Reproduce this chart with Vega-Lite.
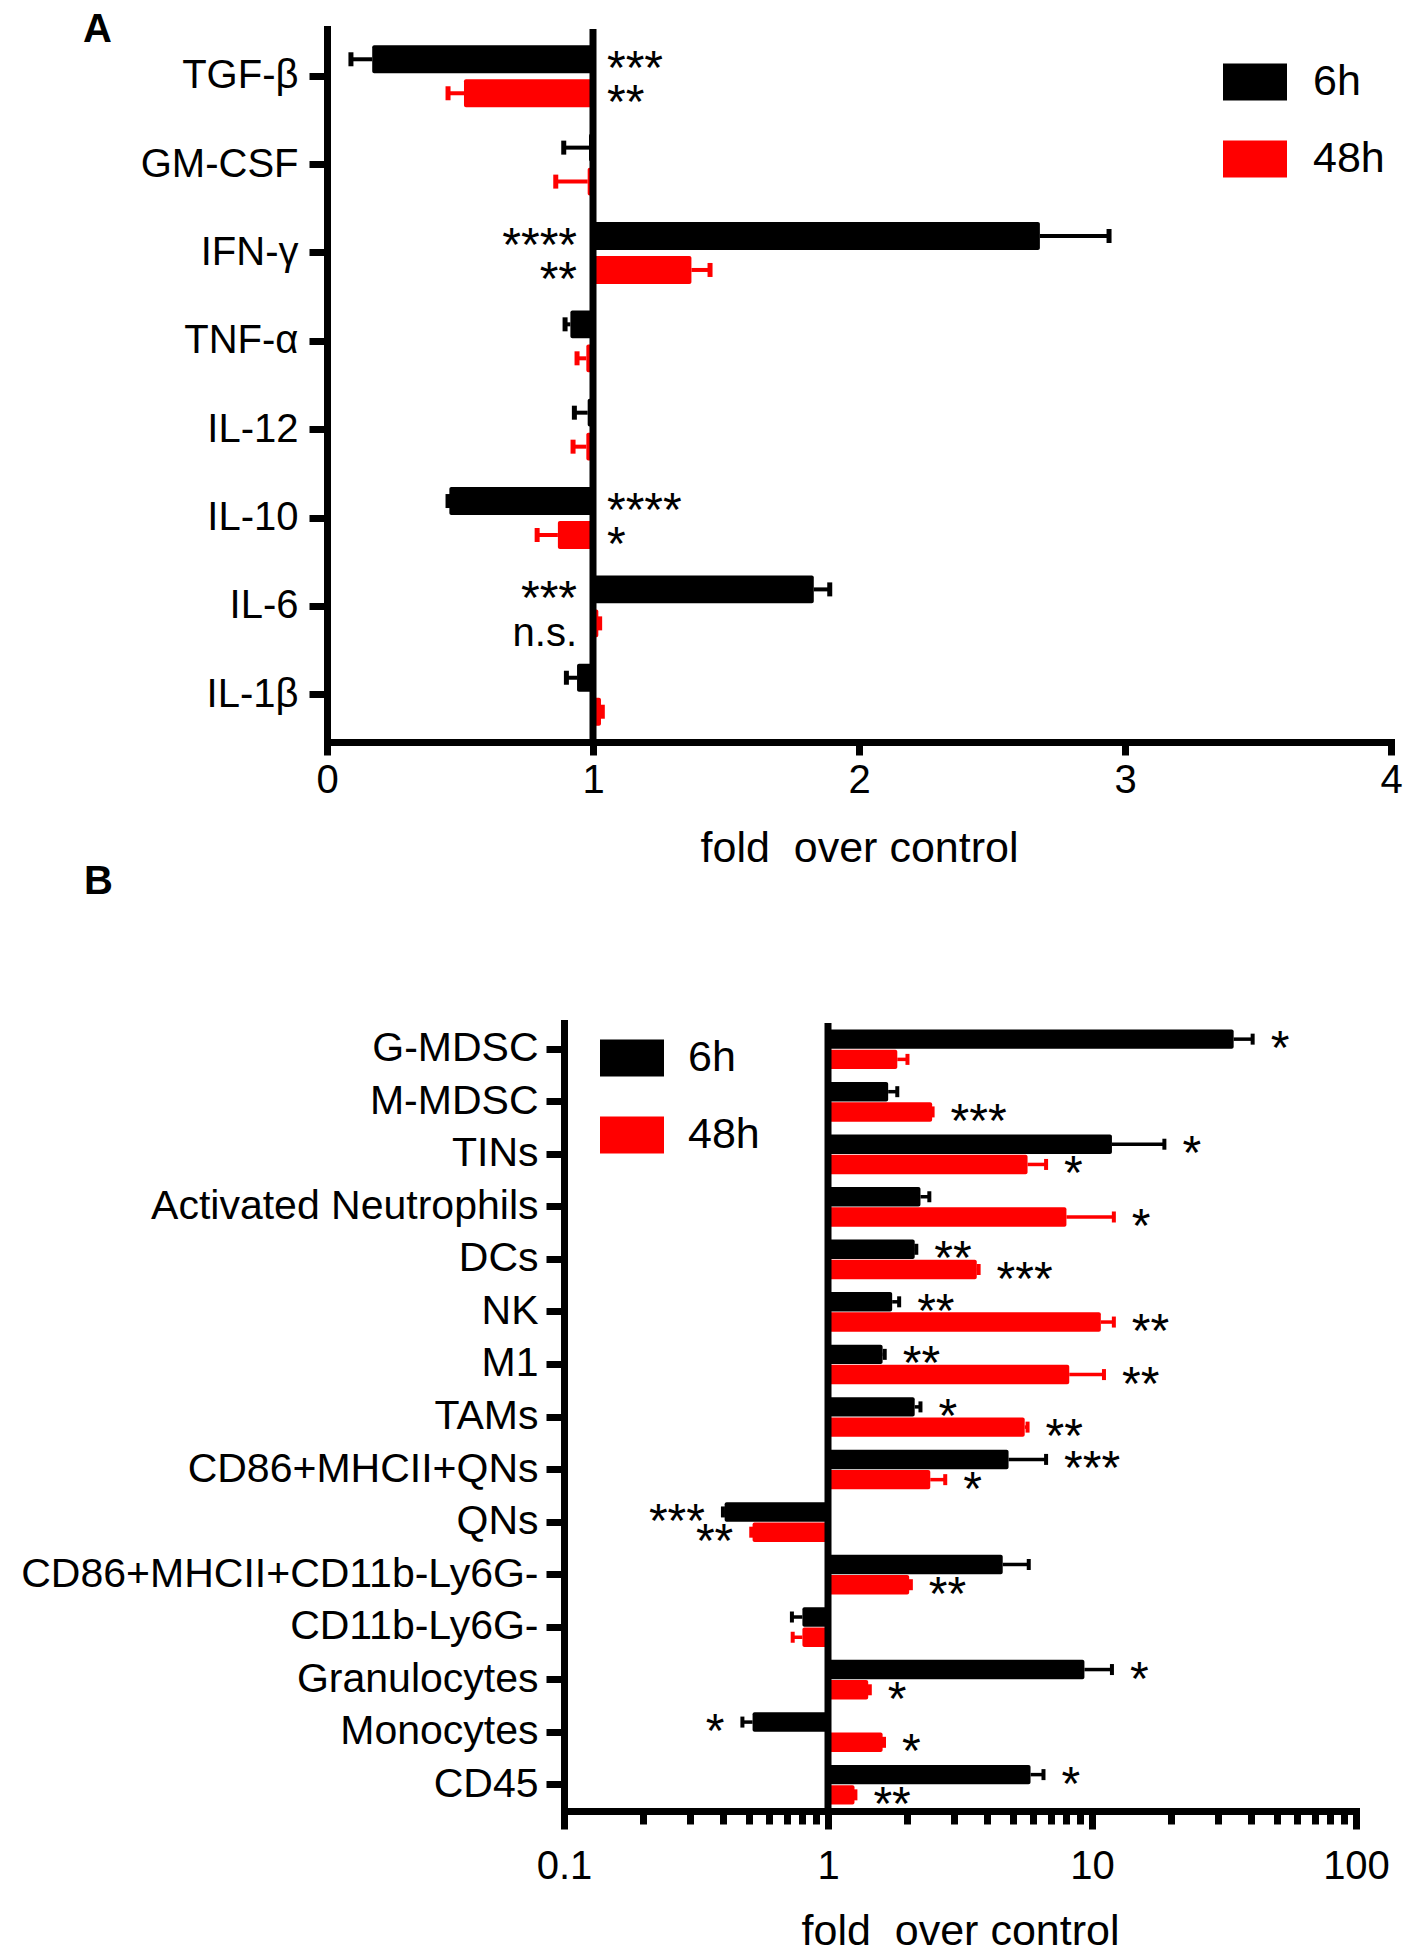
{
  "$schema": "https://vega.github.io/schema/vega-lite/v6.json",
  "background": "white",
  "padding": {"left": 20, "top": 9, "right": 5, "bottom": 5},
  "config": {
    "font": "Liberation Sans",
    "view": {"stroke": null},
    "axis": {"domainColor": "#000", "domainWidth": 7, "domainCap": "square", "tickColor": "#000", "tickWidth": 7, "labelColor": "#000", "labelFontSize": 40, "labelFont": "Liberation Sans", "labelLimit": 0, "titleColor": "#000", "titleFont": "Liberation Sans", "titleFontSize": 43, "titleFontWeight": "normal", "grid": false, "labelFlush": false, "labelOverlap": false},
    "title": {"font": "Liberation Sans", "color": "#000"},
    "text": {"font": "Liberation Sans", "color": "#000"}
  },
  "datasets": {
    "A": [
      {"cat": "TGF-β", "time": "6h", "value": 0.17, "errEnd": 0.09, "sig": "***"},
      {"cat": "TGF-β", "time": "48h", "value": 0.515, "errEnd": 0.455, "sig": "**"},
      {"cat": "GM-CSF", "time": "6h", "value": 0.985, "errEnd": 0.89, "sig": ""},
      {"cat": "GM-CSF", "time": "48h", "value": 0.98, "errEnd": 0.86, "sig": ""},
      {"cat": "IFN-γ", "time": "6h", "value": 2.68, "errEnd": 2.94, "sig": "****"},
      {"cat": "IFN-γ", "time": "48h", "value": 1.37, "errEnd": 1.44, "sig": "**"},
      {"cat": "TNF-α", "time": "6h", "value": 0.915, "errEnd": 0.895, "sig": ""},
      {"cat": "TNF-α", "time": "48h", "value": 0.975, "errEnd": 0.94, "sig": ""},
      {"cat": "IL-12", "time": "6h", "value": 0.98, "errEnd": 0.93, "sig": ""},
      {"cat": "IL-12", "time": "48h", "value": 0.975, "errEnd": 0.925, "sig": ""},
      {"cat": "IL-10", "time": "6h", "value": 0.46, "errEnd": 0.455, "sig": "****"},
      {"cat": "IL-10", "time": "48h", "value": 0.868, "errEnd": 0.79, "sig": "*"},
      {"cat": "IL-6", "time": "6h", "value": 1.83, "errEnd": 1.89, "sig": "***"},
      {"cat": "IL-6", "time": "48h", "value": 1.02, "errEnd": 1.025, "sig": "n.s."},
      {"cat": "IL-1β", "time": "6h", "value": 0.94, "errEnd": 0.9, "sig": ""},
      {"cat": "IL-1β", "time": "48h", "value": 1.03, "errEnd": 1.035, "sig": ""}
    ],
    "B": [
      {"cat": "G-MDSC", "time": "6h", "value": 34.4, "errEnd": 40.6, "sig": "*"},
      {"cat": "G-MDSC", "time": "48h", "value": 1.83, "errEnd": 2.0, "sig": ""},
      {"cat": "M-MDSC", "time": "6h", "value": 1.69, "errEnd": 1.83, "sig": ""},
      {"cat": "M-MDSC", "time": "48h", "value": 2.48, "errEnd": 2.49, "sig": "***"},
      {"cat": "TINs", "time": "6h", "value": 11.9, "errEnd": 18.8, "sig": "*"},
      {"cat": "TINs", "time": "48h", "value": 5.7, "errEnd": 6.7, "sig": "*"},
      {"cat": "Activated Neutrophils", "time": "6h", "value": 2.24, "errEnd": 2.42, "sig": ""},
      {"cat": "Activated Neutrophils", "time": "48h", "value": 8.0, "errEnd": 12.1, "sig": "*"},
      {"cat": "DCs", "time": "6h", "value": 2.13, "errEnd": 2.16, "sig": "**"},
      {"cat": "DCs", "time": "48h", "value": 3.66, "errEnd": 3.72, "sig": "***"},
      {"cat": "NK", "time": "6h", "value": 1.75, "errEnd": 1.86, "sig": "**"},
      {"cat": "NK", "time": "48h", "value": 10.8, "errEnd": 12.1, "sig": "**"},
      {"cat": "M1", "time": "6h", "value": 1.61, "errEnd": 1.64, "sig": "**"},
      {"cat": "M1", "time": "48h", "value": 8.2, "errEnd": 11.1, "sig": "**"},
      {"cat": "TAMs", "time": "6h", "value": 2.13, "errEnd": 2.24, "sig": "*"},
      {"cat": "TAMs", "time": "48h", "value": 5.56, "errEnd": 5.7, "sig": "**"},
      {"cat": "CD86+MHCII+QNs", "time": "6h", "value": 4.83, "errEnd": 6.7, "sig": "***"},
      {"cat": "CD86+MHCII+QNs", "time": "48h", "value": 2.44, "errEnd": 2.78, "sig": "*"},
      {"cat": "QNs", "time": "6h", "value": 0.406, "errEnd": 0.4, "sig": "***"},
      {"cat": "QNs", "time": "48h", "value": 0.518, "errEnd": 0.512, "sig": "**"},
      {"cat": "CD86+MHCII+CD11b-Ly6G-", "time": "6h", "value": 4.59, "errEnd": 5.76, "sig": ""},
      {"cat": "CD86+MHCII+CD11b-Ly6G-", "time": "48h", "value": 2.03, "errEnd": 2.06, "sig": "**"},
      {"cat": "CD11b-Ly6G-", "time": "6h", "value": 0.8, "errEnd": 0.73, "sig": ""},
      {"cat": "CD11b-Ly6G-", "time": "48h", "value": 0.8, "errEnd": 0.735, "sig": ""},
      {"cat": "Granulocytes", "time": "6h", "value": 9.36, "errEnd": 11.9, "sig": "*"},
      {"cat": "Granulocytes", "time": "48h", "value": 1.42, "errEnd": 1.44, "sig": "*"},
      {"cat": "Monocytes", "time": "6h", "value": 0.518, "errEnd": 0.474, "sig": "*"},
      {"cat": "Monocytes", "time": "48h", "value": 1.61, "errEnd": 1.63, "sig": "*"},
      {"cat": "CD45", "time": "6h", "value": 5.85, "errEnd": 6.55, "sig": "*"},
      {"cat": "CD45", "time": "48h", "value": 1.26, "errEnd": 1.27, "sig": "**"}
    ]
  },
  "columns": 1,
  "align": "none",
  "spacing": -9,
  "resolve": {"scale": {"yOffset": "independent"}, "legend": {"color": "independent"}},
  "concat": [
    {
      "columns": 2,
      "align": "none",
      "spacing": -482,
      "concat": [
        {"width": 1, "height": 10, "data": {"values": []}, "mark": "point"},
        {
          "width": 1064,
          "height": 713,
          "title": {"text": "A", "anchor": "start", "frame": "group", "fontSize": 40, "fontWeight": "bold", "dx": -244, "offset": -24},
          "data": {"name": "A"},
          "layer": [
            {
              "mark": {"type": "bar", "cornerRadius": 2, "opacity": 1},
              "encoding": {
                "x": {"field": "value", "type": "quantitative", "scale": {"domain": [0, 4], "nice": false, "zero": false},
                      "axis": {"values": [0, 1, 2, 3, 4], "format": "d", "tickSize": 13, "labelPadding": 5, "title": "fold\u00a0\u00a0over control", "titlePadding": 27}},
                "x2": {"datum": 1},
                "y": {"field": "cat", "type": "nominal", "scale": {"domain": ["TGF-β", "GM-CSF", "IFN-γ", "TNF-α", "IL-12", "IL-10", "IL-6", "IL-1β"], "paddingInner": 0.3, "paddingOuter": 0.185},
                      "axis": {"title": null, "tickSize": 18, "labelPadding": 11}},
                "yOffset": {"field": "time", "type": "nominal", "scale": {"domain": ["6h", "48h"], "paddingInner": 0.18, "paddingOuter": 0}},
                "color": {"field": "time", "type": "nominal", "scale": {"domain": ["6h", "48h"], "range": ["#000000", "#ff0000"]},
                          "legend": {"title": null, "orient": "none", "legendX": 659, "legendY": 21, "symbolType": "M-1,-0.58H1V0.58H-1Z", "symbolSize": 4096, "symbolStrokeWidth": 0, "symbolOpacity": 1, "labelFontSize": 43, "labelOffset": 26, "rowPadding": 23, "padding": 0, "labelColor": "#000", "labelFont": "Liberation Sans"}}
              }
            },
            {
              "mark": {"type": "rule", "strokeWidth": 4, "opacity": 1},
              "encoding": {
                "x": {"field": "value", "type": "quantitative"},
                "x2": {"field": "errEnd"},
                "y": {"field": "cat", "type": "nominal"},
                "yOffset": {"field": "time", "type": "nominal"},
                "stroke": {"field": "time", "type": "nominal", "scale": {"domain": ["6h", "48h"], "range": ["#000000", "#ff0000"]}, "legend": null}
              }
            },
            {
              "mark": {"type": "tick", "orient": "vertical", "size": 14, "thickness": 5, "opacity": 1},
              "encoding": {
                "x": {"field": "errEnd", "type": "quantitative"},
                "y": {"field": "cat", "type": "nominal"},
                "yOffset": {"field": "time", "type": "nominal"},
                "fill": {"field": "time", "type": "nominal", "scale": {"domain": ["6h", "48h"], "range": ["#000000", "#ff0000"]}, "legend": null}
              }
            },
            {
              "transform": [{"filter": "datum.sig != '' && datum.value < 1"}],
              "mark": {"type": "text", "align": "left", "baseline": "middle", "dx": 14, "dy": 11},
              "encoding": {
                "x": {"datum": 1},
                "y": {"field": "cat", "type": "nominal"},
                "yOffset": {"field": "time", "type": "nominal"},
                "text": {"field": "sig"},
                "size": {"condition": {"test": "datum.sig == 'n.s.'", "value": 40}, "value": 48}
              }
            },
            {
              "transform": [{"filter": "datum.sig != '' && datum.value >= 1"}],
              "mark": {"type": "text", "align": "right", "baseline": "middle", "dx": -16, "dy": 11},
              "encoding": {
                "x": {"datum": 1},
                "y": {"field": "cat", "type": "nominal"},
                "yOffset": {"field": "time", "type": "nominal"},
                "text": {"field": "sig"},
                "size": {"condition": {"test": "datum.sig == 'n.s.'", "value": 40}, "value": 48}
              }
            },
            {
              "data": {"values": [{}]},
              "mark": {"type": "rule", "strokeWidth": 7, "color": "#000"},
              "encoding": {"x": {"datum": 1}}
            }
          ]
        }
      ]
    },
    {
      "width": 792,
      "height": 788,
      "title": {"text": "B", "anchor": "start", "frame": "group", "fontSize": 40, "fontWeight": "bold", "dx": -480, "offset": 118},
      "data": {"name": "B"},
      "layer": [
        {
          "mark": {"type": "bar", "cornerRadius": 2, "opacity": 1},
          "encoding": {
            "x": {"field": "value", "type": "quantitative", "scale": {"type": "log", "domain": [0.1, 100], "nice": false},
                  "axis": {"values": [0.1, 0.2, 0.3, 0.4, 0.5, 0.6, 0.7, 0.8, 0.9, 1, 2, 3, 4, 5, 6, 7, 8, 9, 10, 20, 30, 40, 50, 60, 70, 80, 90, 100], "format": "~g", "labelExpr": "indexof([0.1, 1, 10, 100], datum.value) >= 0 ? datum.label : ''",
                           "tickSize": {"condition": {"test": "indexof([0.1, 1, 10, 100], datum.value) >= 0", "value": 18}, "value": 13},
                           "labelPadding": 17, "title": "fold\u00a0\u00a0over control", "titlePadding": 24}},
            "x2": {"datum": 1},
            "y": {"field": "cat", "type": "nominal", "scale": {"domain": ["G-MDSC", "M-MDSC", "TINs", "Activated Neutrophils", "DCs", "NK", "M1", "TAMs", "CD86+MHCII+QNs", "QNs", "CD86+MHCII+CD11b-Ly6G-", "CD11b-Ly6G-", "Granulocytes", "Monocytes", "CD45"], "paddingInner": 0.245, "paddingOuter": 0.1225},
                  "axis": {"title": null, "tickSize": 18, "labelPadding": 8, "labelFontSize": 41}},
            "yOffset": {"field": "time", "type": "nominal", "scale": {"domain": ["6h", "48h"], "paddingInner": 0.04, "paddingOuter": 0}},
            "color": {"field": "time", "type": "nominal", "scale": {"domain": ["6h", "48h"], "range": ["#000000", "#ff0000"]},
                      "legend": {"title": null, "orient": "none", "legendX": 36, "legendY": 3, "symbolType": "M-1,-0.58H1V0.58H-1Z", "symbolSize": 4096, "symbolStrokeWidth": 0, "symbolOpacity": 1, "labelFontSize": 43, "labelOffset": 24, "rowPadding": 23, "padding": 0, "labelColor": "#000", "labelFont": "Liberation Sans"}}
          }
        },
        {
          "mark": {"type": "rule", "strokeWidth": 3.5, "opacity": 1},
          "encoding": {
            "x": {"field": "value", "type": "quantitative"},
            "x2": {"field": "errEnd"},
            "y": {"field": "cat", "type": "nominal"},
            "yOffset": {"field": "time", "type": "nominal"},
            "stroke": {"field": "time", "type": "nominal", "scale": {"domain": ["6h", "48h"], "range": ["#000000", "#ff0000"]}, "legend": null}
          }
        },
        {
          "mark": {"type": "tick", "orient": "vertical", "size": 11, "thickness": 4, "opacity": 1},
          "encoding": {
            "x": {"field": "errEnd", "type": "quantitative"},
            "y": {"field": "cat", "type": "nominal"},
            "yOffset": {"field": "time", "type": "nominal"},
            "fill": {"field": "time", "type": "nominal", "scale": {"domain": ["6h", "48h"], "range": ["#000000", "#ff0000"]}, "legend": null}
          }
        },
        {
          "transform": [{"filter": "datum.sig != '' && datum.value >= 1"}],
          "mark": {"type": "text", "align": "left", "baseline": "middle", "dx": 18, "dy": 11, "fontSize": 48},
          "encoding": {
            "x": {"field": "errEnd", "type": "quantitative"},
            "y": {"field": "cat", "type": "nominal"},
            "yOffset": {"field": "time", "type": "nominal"},
            "text": {"field": "sig"}
          }
        },
        {
          "transform": [{"filter": "datum.sig != '' && datum.value < 1"}],
          "mark": {"type": "text", "align": "right", "baseline": "middle", "dx": -18, "dy": 11, "fontSize": 48},
          "encoding": {
            "x": {"field": "errEnd", "type": "quantitative"},
            "y": {"field": "cat", "type": "nominal"},
            "yOffset": {"field": "time", "type": "nominal"},
            "text": {"field": "sig"}
          }
        },
        {
          "data": {"values": [{}]},
          "mark": {"type": "rule", "strokeWidth": 7, "color": "#000"},
          "encoding": {"x": {"datum": 1}}
        }
      ]
    }
  ]
}
